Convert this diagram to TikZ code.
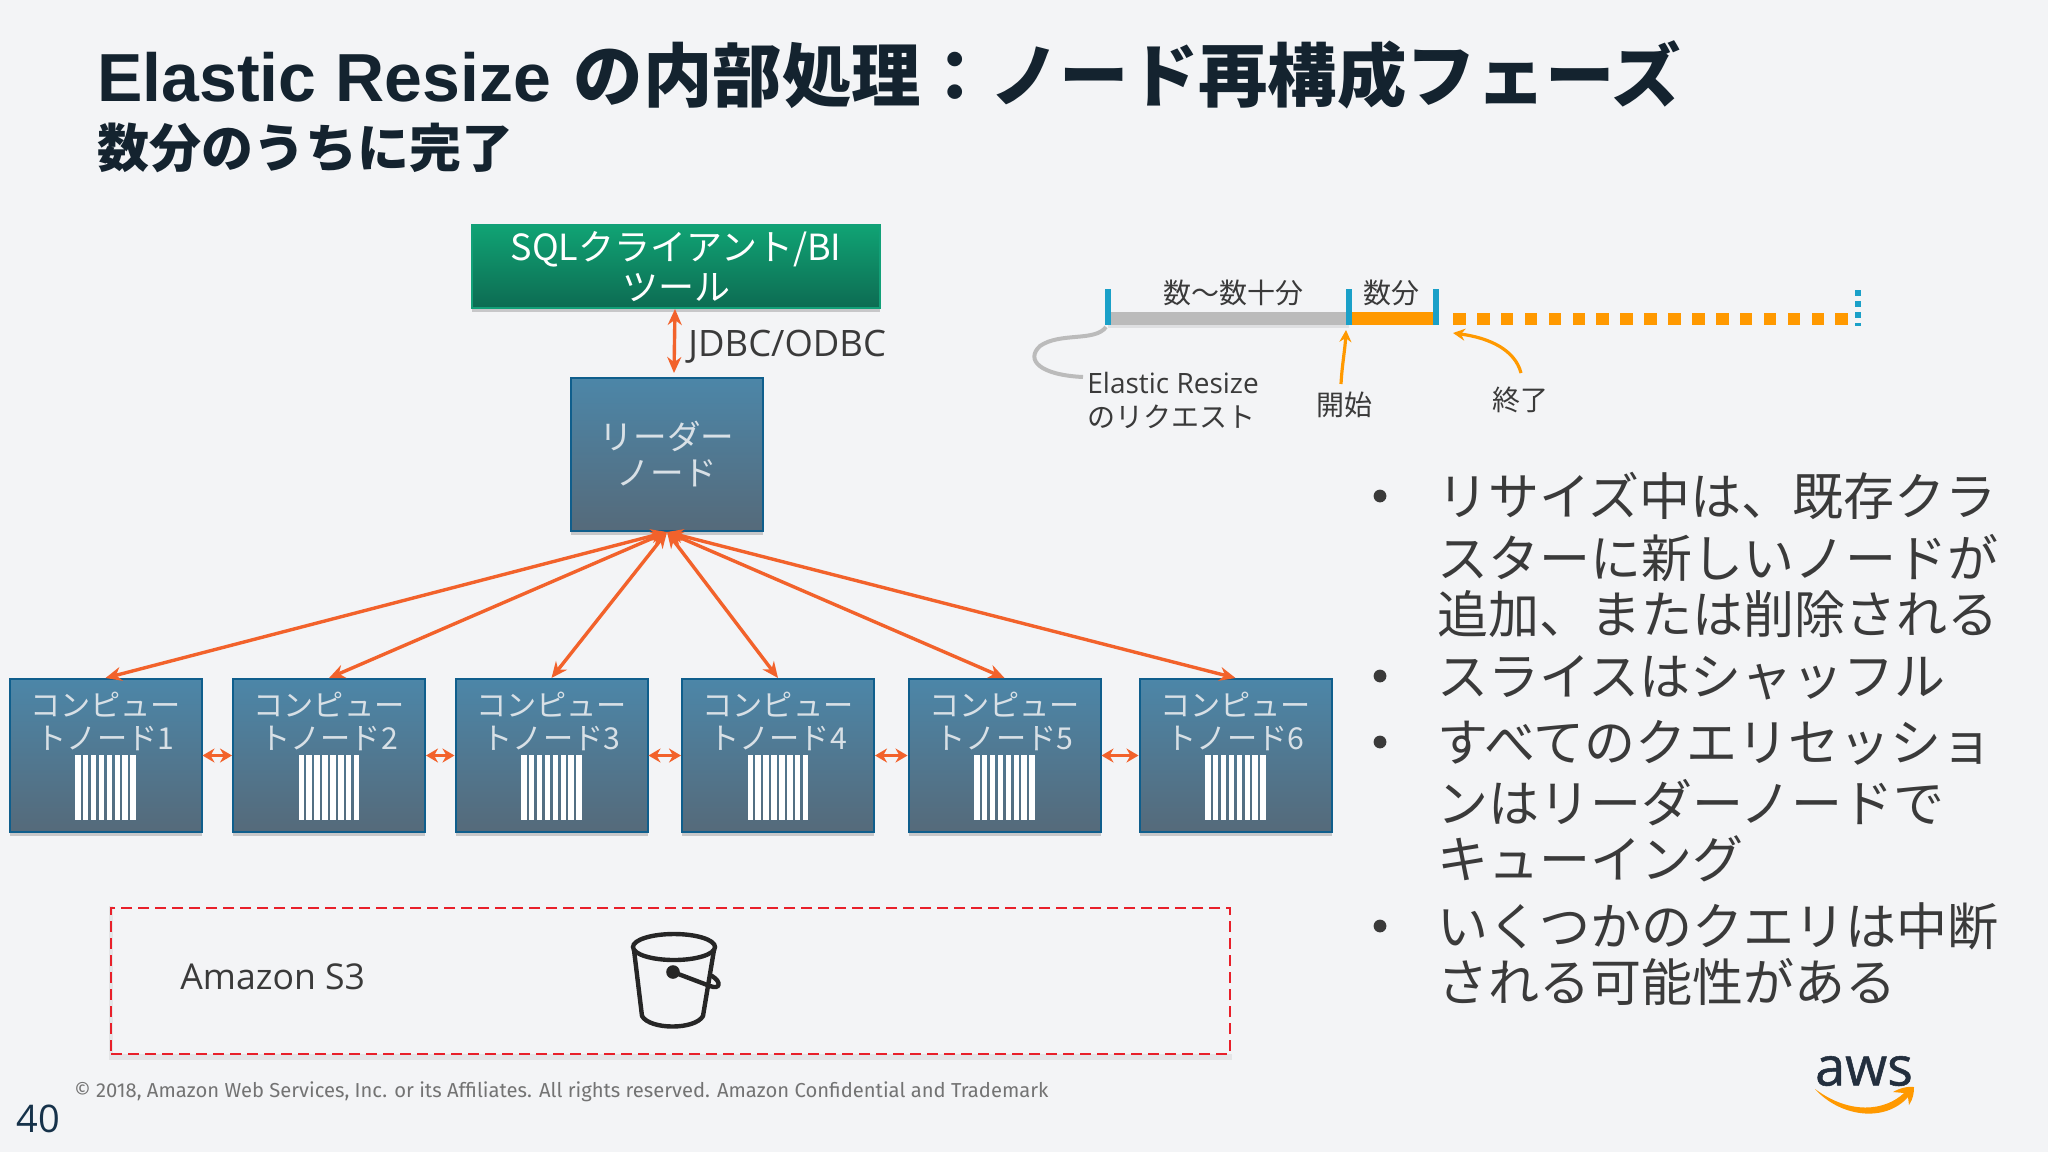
\documentclass[tikz,border=0pt]{standalone}
\usepackage{fontspec}
\usetikzlibrary{arrows.meta,shadows}
\newfontfamily\cjk{Noto Sans CJK JP}
\newfontfamily\arialf{Liberation Sans}
\newfontfamily\opens{Open Sans}
\newfontfamily\firaf{Fira Sans}
\newfontfamily\awsf[FakeBold=1]{Open Sans}
\newcommand\fs[1]{\fontsize{#1}{#1}\selectfont}
\definecolor{bgc}{HTML}{F3F4F6}
\definecolor{titlec}{HTML}{14232F}
\definecolor{bodyc}{HTML}{3A3A3A}
\definecolor{arrowc}{HTML}{F2622B}
\definecolor{amber}{HTML}{FF9900}
\definecolor{tickc}{HTML}{1AA0C8}
\definecolor{greybar}{HTML}{BBBBBB}
\definecolor{nodetxt}{HTML}{D8E0E6}
\definecolor{bluedraw}{HTML}{0F5E8C}
\definecolor{bluetop}{HTML}{4C86A8}
\definecolor{bluebot}{HTML}{556A7A}
\definecolor{greendraw}{HTML}{12A078}
\definecolor{greentop}{HTML}{10A374}
\definecolor{greenbot}{HTML}{0D6B52}
\definecolor{bucketc}{HTML}{262626}
\definecolor{awsc}{HTML}{232F3E}
\definecolor{redd}{HTML}{E8202A}
\definecolor{pagec}{HTML}{16324A}
\tikzset{
  jt/.style={inner sep=0pt,text height=#1*0.88pt,text depth=#1*0.12pt,font=\cjk\fs{#1}},
  shad/.style={drop shadow={shadow xshift=0pt,shadow yshift=-2pt,opacity=.18,fill=black}},
  bluebox/.style={rectangle,draw=bluedraw,line width=1pt,top color=bluetop,bottom color=bluebot,shad,inner sep=0pt,minimum width=96pt,minimum height=76.5pt},
  greenbox/.style={rectangle,draw=greendraw,line width=.8pt,top color=greentop,bottom color=greenbot,shad,inner sep=0pt},
  link/.style={draw=arrowc,line width=1.7pt,{Stealth[length=8pt,width=7pt]}-{Stealth[length=8pt,width=7pt]}},
  peer/.style={draw=arrowc,line width=1.6pt,{Stealth[length=6pt,width=7pt]}-{Stealth[length=6pt,width=7pt]}},
  cnode/.style={jt=15.1,text=nodetxt},
  bul/.style={jt=25.5,anchor=west,text=bodyc},
  smallt/.style={jt=14,text=bodyc},
  amberline/.style={draw=amber,line width=1.6pt},
  tick/.style={draw=tickc,line width=2.8pt},
}
\begin{document}
\begin{tikzpicture}[x=0.5pt,y=-0.5pt]
\useasboundingbox (0,0) rectangle (2048,1152);
\fill[bgc] (0,0) rectangle (2048,1152);
% title
\node (title) [anchor=base west,inner sep=0pt,text=titlec,font=\bfseries] at (97,101) {{\arialf\fs{34}Elastic Resize }\hspace{2pt}{\cjk\fs{34.7}の内部処理：ノード再構成フェーズ}};
\node (subtitle) [inner sep=0pt,text height=22.9pt,text depth=3.1pt,anchor=west,text=titlec,font=\cjk\fs{26}\bfseries] at (97,148) {数分のうちに完了};
% client and leader
\node (sql) [greenbox,minimum width=204pt,minimum height=41.5pt] at (676,266.5) {};
\node (sqla) [jt=18,text=white] at (676,247) {SQLクライアント/BI};
\node (sqlb) [jt=18,text=white] at (676,287) {ツール};
\node (leader) [bluebox] at (667,454.5) {};
\node (leada) [jt=16.8,text=nodetxt] at (667,437) {リーダー};
\node (leadb) [jt=16.8,text=nodetxt] at (667,473) {ノード};
\coordinate (ja) at (675,309);
\coordinate (jb) at (674,373);
\draw[link] (ja) -- (jb);
\node (jdbc) [anchor=west,inner sep=0pt,text=bodyc,font=\opens\fs{18.2}] at (688,347) {JDBC/ODBC};
% compute nodes
\foreach \n/\x in {1/105.5,2/329,3/551.5,4/778,5/1004.5,6/1235.5}{
  \node (c\n) [bluebox] at (\x,755.5) {};
  \node (c\n a) [cnode] at (\x,705) {コンピュー};
  \node (c\n b) [cnode] at (\x,738) {トノード\n};
  \foreach \s in {0,...,7}{
    \fill[white] ({\x-30.5+\s*7.9},755) rectangle ++(5.5,65);
  }
  \draw[link] (leader.south) -- (c\n.north);
}
\foreach \a/\b in {1/2,2/3,3/4,4/5,5/6}{
  \draw[peer] (c\a.east) -- (c\b.west);
}
% S3
\fill[black,opacity=.06] (109,906) rectangle (1232,1060);
\fill[bgc] (113,906) rectangle (1232,1054);
\node (s3box) [draw=redd,line width=1.3pt,dash pattern=on 5.5pt off 3pt,minimum width=559.5pt,minimum height=73pt,inner sep=0pt] at (670.5,981) {};
\node (s3) [anchor=west,inner sep=0pt,text=bodyc,font=\opens\fs{17.8}] at (180,977) {Amazon S3};
\begin{scope}[draw=bucketc,line width=2.2pt]
  \draw (674,947) ellipse [x radius=20.5pt,y radius=6.5pt];
  \draw[line cap=round,line join=round] (634,950) -- (642,1016) .. controls (650,1030) and (695,1030) .. (703,1016) -- (714,950);
  \fill[bucketc] (673,972) circle (3.4pt);
  \draw[line cap=round] (673,972) -- (710,986) .. controls (720,990) and (722,982) .. (712,976);
\end{scope}
% timeline
\fill[greybar] (1108,312) rectangle (1349,325);
\fill[black,opacity=.08] (1108,325) rectangle (1349,328);
\fill[amber] (1349,312) rectangle (1436,325);
\foreach \i in {0,...,16}{
  \fill[amber] ({1453+23.9*\i},313) rectangle ++(12.6,12);
}
\draw[tick] (1108,289) -- (1108,325);
\draw[tick] (1349,289) -- (1349,325);
\draw[tick] (1436,289) -- (1436,325);
\draw[draw=tickc,line width=2.8pt,dash pattern=on 3pt off 2.5pt] (1858,290) -- (1858,326);
\node (tla) [smallt] at (1233,293) {数～数十分};
\node (tlb) [smallt] at (1391,293) {数分};
\node (reqa) [anchor=west,inner sep=0pt,text=bodyc,font=\opens\fs{14}] at (1087,383) {Elastic Resize};
\node (reqb) [smallt,anchor=west] at (1087,417) {のリクエスト};
\node (st) [smallt] at (1344,405) {開始};
\node (en) [smallt] at (1520,400) {終了};
\coordinate (g1) at (1106,327);
\coordinate (g2) at (1083,377);
\draw[draw=greybar,line width=2pt] (g1) .. controls (1095,342) and (1060,332) .. (1040,346) .. controls (1025,360) and (1040,375) .. (g2);
\coordinate (sa) at (1341,384);
\coordinate (sb) at (1346,330);
\draw[amberline,-{Stealth[length=6pt,width=6pt]}] (sa) .. controls (1342,365) and (1345,350) .. (sb);
\coordinate (ea) at (1521,373);
\coordinate (eb) at (1453,333);
\draw[amberline,-{Stealth[length=6pt,width=6pt]}] (ea) .. controls (1515,350) and (1490,338) .. (eb);
% bullets
\foreach \y in {496,676,742,926}{
  \fill[bodyc] (1380,\y) circle (3.2pt);
}
\node (b1) [bul] at (1437,496) {リサイズ中は、既存クラ};
\node (b2) [bul] at (1437,558) {スターに新しいノードが};
\node (b3) [bul] at (1437,614) {追加、または削除される};
\node (b4) [bul] at (1437,676) {スライスはシャッフル};
\node (b5) [bul] at (1437,742) {すべてのクエリセッショ};
\node (b6) [bul] at (1437,803) {ンはリーダーノードで};
\node (b7) [bul] at (1437,859) {キューイング};
\node (b8) [bul] at (1437,926) {いくつかのクエリは中断};
\node (b9) [bul] at (1437,982) {される可能性がある};
% footer
\node (copy) [anchor=west,inner sep=0pt,text=black!55,font=\firaf\fs{10.1}] at (74,1092) {© 2018, Amazon Web Services, Inc. or its Affiliates. All rights reserved. Amazon Confidential and Trademark};
\node (page) [anchor=west,inner sep=0pt,text=pagec,font=\opens\fs{19}] at (16,1119) {40};
% aws logo
\node (aws) [inner sep=0pt,text=awsc,font=\awsf\fs{27}] at (1864,1071) {aws};
\begin{scope}[yshift=2.5pt]
\fill[amber] (1815,1094) .. controls (1850,1120) and (1885,1116) .. (1904,1098) -- (1893,1097) .. controls (1900,1093) and (1908,1091) .. (1914,1092) .. controls (1914,1098) and (1913,1104) .. (1909,1110) -- (1908,1102) .. controls (1885,1128) and (1840,1122) .. (1815,1094) -- cycle;
\end{scope}
\end{tikzpicture}
\end{document}
